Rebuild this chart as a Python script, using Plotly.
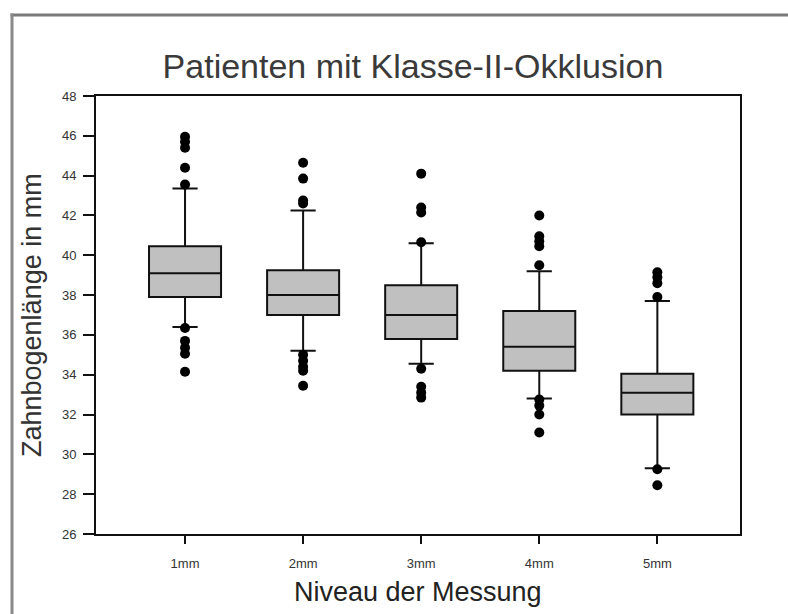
import plotly.graph_objects as go

categories = ["1mm", "2mm", "3mm", "4mm", "5mm"]
positions = [1, 2, 3, 4, 5]
q1 = [37.9, 37.0, 35.8, 34.2, 32.0]
median = [39.1, 38.0, 37.0, 35.4, 33.1]
q3 = [40.45, 39.25, 38.5, 37.2, 34.05]
lowerfence = [36.4, 35.2, 34.55, 32.8, 29.3]
upperfence = [43.35, 42.25, 40.6, 39.2, 37.7]

outliers_1mm = [45.95, 45.7, 45.4, 44.4, 43.55, 36.35, 35.7, 35.35, 35.05, 34.15]
outliers_2mm = [44.65, 43.85, 42.75, 42.6, 35.0, 34.7, 34.4, 34.2, 33.45]
outliers_3mm = [44.1, 42.4, 42.15, 40.65, 34.3, 33.4, 33.1, 32.85]
outliers_4mm = [42.0, 40.95, 40.7, 40.45, 39.5, 32.75, 32.45, 32.0, 31.1]
outliers_5mm = [39.15, 38.9, 38.6, 37.9, 29.25, 28.45]
outliers = [outliers_1mm, outliers_2mm, outliers_3mm, outliers_4mm, outliers_5mm]

y_ticks = list(range(26, 49, 2))

fig = go.Figure()

for i in range(len(categories)):
    fig.add_trace(go.Box(
        x=[positions[i]],
        q1=[q1[i]], median=[median[i]], q3=[q3[i]],
        lowerfence=[lowerfence[i]], upperfence=[upperfence[i]],
        width=0.61, whiskerwidth=0.35,
        fillcolor="#c0c0c0",
        line=dict(color="#111111", width=2),
        boxpoints=False,
        showlegend=False,
        hoverinfo="skip",
    ))

for i in range(len(categories)):
    fig.add_trace(go.Scatter(
        x=[positions[i]] * len(outliers[i]),
        y=outliers[i],
        mode="markers",
        marker=dict(color="black", size=10, symbol="circle"),
        showlegend=False,
        hoverinfo="skip",
    ))

# px -> paper conversion helpers (plot area 96..740 x 96..534)
L, R, T, B = 96, 740, 96, 534
def px_x(px):
    return (px - L) / (R - L)
def px_y(py):
    return (B - py) / (B - T)

fig.update_layout(
    width=788, height=614,
    margin=dict(l=L, r=788 - R, t=T, b=614 - B),
    paper_bgcolor="white",
    plot_bgcolor="white",
    font=dict(family="Liberation Sans, Arial, sans-serif", color="#333333"),
    title=dict(
        text="Patienten mit Klasse-II-Okklusion",
        x=413 / 788, xanchor="center",
        y=1 - 66 / 614, yanchor="middle",
        yref="container", xref="container",
        font=dict(size=34, color="#3a3a3a", family="Liberation Sans, Arial, sans-serif"),
    ),
    xaxis=dict(
        range=[0.246, 5.70],
        tickmode="array", tickvals=positions, ticktext=categories,
        ticks="outside", ticklen=8, tickwidth=2, tickcolor="#111111",
        showline=True, linecolor="#111111", linewidth=2, mirror=True,
        showgrid=False, zeroline=False,
        tickfont=dict(size=13, color="#333333",
                      family="Liberation Sans Narrow, Arial Narrow, Liberation Sans, Arial"),
        ticklabelstandoff=8,
    ),
    yaxis=dict(
        range=[26, 48],
        tickmode="array", tickvals=y_ticks,
        ticks="outside", ticklen=11, tickwidth=2, tickcolor="#111111",
        showline=True, linecolor="#111111", linewidth=2, mirror=True,
        showgrid=False, zeroline=False,
        tickfont=dict(size=13, color="#333333",
                      family="Liberation Sans Narrow, Arial Narrow, Liberation Sans, Arial"),
        ticklabelstandoff=4,
    ),
    annotations=[
        dict(text="Zahnbogenlänge in mm", textangle=-90,
             xref="paper", yref="paper", x=px_x(32), y=0.5,
             xanchor="center", yanchor="middle", showarrow=False,
             font=dict(size=27, color="#333333")),
        dict(text="Niveau der Messung",
             xref="paper", yref="paper", x=0.5, y=px_y(592),
             xanchor="center", yanchor="middle", showarrow=False,
             font=dict(size=27, color="#222222")),
    ],
    shapes=[
        dict(type="line", xref="paper", yref="paper",
             x0=px_x(10.5), x1=px_x(788), y0=px_y(15), y1=px_y(15),
             line=dict(color="#7a7a7a", width=3)),
        dict(type="line", xref="paper", yref="paper",
             x0=px_x(12), x1=px_x(12), y0=px_y(13.5), y1=px_y(614),
             line=dict(color="#8a8a8a", width=3)),
    ],
)

fig.write_html("out.html")
